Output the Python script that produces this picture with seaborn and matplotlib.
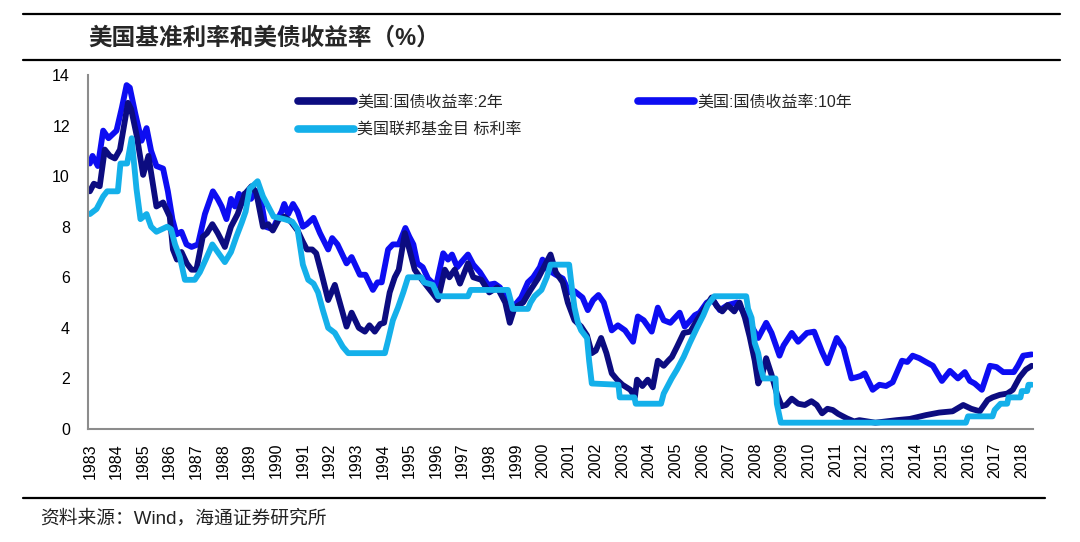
import numpy as np
import pandas as pd
import matplotlib
matplotlib.use("Agg")
import matplotlib.pyplot as plt
import seaborn as sns
from matplotlib.lines import Line2D

# ---- data (decimal year, %) ----
fed_t = [1983.0, 1983.25, 1983.5, 1983.65, 1984.05, 1984.15, 1984.4, 1984.57, 1984.75, 1984.9,
         1985.13, 1985.3, 1985.5, 1985.7, 1985.9, 1986.05, 1986.2, 1986.38, 1986.57, 1986.94,
         1987.13, 1987.35, 1987.6, 1987.8, 1988.07, 1988.3, 1988.5, 1988.7, 1988.85, 1989.0,
         1989.3, 1989.5, 1989.7, 1989.9, 1990.3, 1990.6, 1990.8, 1990.9, 1991.0, 1991.2,
         1991.4, 1991.57, 1991.75, 1991.95, 1992.2, 1992.5, 1992.7, 1994.08, 1994.2, 1994.38,
         1994.57, 1994.77, 1994.95, 1995.45, 1995.55, 1995.88, 1996.07, 1997.2, 1997.3, 1998.7,
         1998.8, 1998.88, 1999.45, 1999.55, 1999.7, 1999.96, 2000.16, 2000.3, 2001.0, 2001.1,
         2001.2, 2001.33, 2001.45, 2001.67, 2001.75, 2001.85, 2002.85, 2002.9, 2003.45, 2003.5,
         2004.45, 2004.55, 2004.7, 2004.85, 2005.05, 2005.3, 2005.53, 2005.8, 2006.04, 2006.2,
         2006.45, 2007.65, 2007.72, 2007.85, 2007.97, 2008.1, 2008.2, 2008.3, 2008.75, 2008.8,
         2008.95, 2015.9, 2015.98, 2016.9, 2016.98, 2017.2, 2017.45, 2017.5, 2017.95, 2018.0,
         2018.2, 2018.25, 2018.37]
fed_v = [8.5, 8.7, 9.2, 9.4, 9.4, 10.5, 10.5, 11.5, 9.5, 8.3,
         8.5, 8.0, 7.8, 7.9, 8.0, 7.9, 7.3, 6.8, 5.9, 5.9,
         6.2, 6.7, 7.3, 7.0, 6.6, 7.0, 7.6, 8.15, 8.6, 9.5,
         9.8, 9.2, 8.8, 8.4, 8.3, 8.2, 7.9, 7.2, 6.5, 5.9,
         5.75, 5.4, 4.7, 4.0, 3.8, 3.25, 3.0, 3.0, 3.5, 4.3,
         4.8, 5.4, 6.0, 6.0, 5.8, 5.7, 5.25, 5.25, 5.5, 5.5,
         5.1, 4.75, 4.75, 5.0, 5.25, 5.5, 6.0, 6.5, 6.5, 5.6,
         4.8, 4.2, 3.9, 3.6, 2.7, 1.8, 1.75, 1.25, 1.25, 1.0,
         1.0, 1.4, 1.7, 2.0, 2.35, 2.85, 3.4, 4.0, 4.5, 4.9,
         5.25, 5.25, 4.75, 4.4, 3.4, 3.0, 2.4, 2.0, 2.0, 1.0,
         0.25, 0.25, 0.5, 0.5, 0.75, 1.0, 1.0, 1.25, 1.25, 1.5,
         1.5, 1.75, 1.75]

y10_t = [1983.0, 1983.1, 1983.3, 1983.5, 1983.7, 1984.0, 1984.2, 1984.38, 1984.5, 1984.7,
         1984.94, 1985.13, 1985.3, 1985.5, 1985.75, 1985.93, 1986.1, 1986.25, 1986.44, 1986.63,
         1986.82, 1987.06, 1987.32, 1987.62, 1987.8, 1987.95, 1988.13, 1988.3, 1988.45, 1988.6,
         1988.7, 1988.8, 1989.05, 1989.25, 1989.45, 1989.6, 1989.87, 1990.0, 1990.2, 1990.3,
         1990.45, 1990.63, 1990.8, 1991.0, 1991.15, 1991.4, 1991.64, 1991.95, 1992.1, 1992.3,
         1992.64, 1992.83, 1993.14, 1993.35, 1993.63, 1993.8, 1993.96, 1994.2, 1994.38, 1994.6,
         1994.85, 1995.0, 1995.15, 1995.3, 1995.5, 1995.7, 1996.0, 1996.27, 1996.45, 1996.6,
         1996.8, 1996.95, 1997.2, 1997.4, 1997.65, 1997.95, 1998.2, 1998.4, 1998.66, 1998.77,
         1998.96, 1999.2, 1999.45, 1999.65, 1999.9, 2000.0, 2000.2, 2000.5, 2000.76, 2001.0,
         2001.2, 2001.5, 2001.7, 2001.9, 2002.1, 2002.3, 2002.6, 2002.83, 2003.1, 2003.4,
         2003.58, 2003.8, 2004.1, 2004.33, 2004.55, 2004.8, 2005.15, 2005.34, 2005.6, 2005.72,
         2005.9, 2006.17, 2006.4, 2006.66, 2006.95, 2007.3, 2007.5, 2007.78, 2008.1, 2008.4,
         2008.6, 2008.9, 2009.05, 2009.36, 2009.6, 2009.93, 2010.2, 2010.5, 2010.7, 2011.05,
         2011.3, 2011.6, 2011.8, 2011.95, 2012.1, 2012.4, 2012.65, 2012.9, 2013.15, 2013.5,
         2013.7, 2013.9, 2014.15, 2014.4, 2014.66, 2015.0, 2015.3, 2015.6, 2015.86, 2016.05,
         2016.23, 2016.5, 2016.8, 2017.05, 2017.3, 2017.7, 2017.85, 2018.05, 2018.37]
y10_v = [10.5, 10.8, 10.4, 11.8, 11.5, 11.8, 12.7, 13.6, 13.5, 12.5,
         11.4, 11.9, 11.0, 10.4, 10.3, 9.4, 8.3, 7.7, 7.8, 7.3,
         7.2, 7.3, 8.5, 9.4, 9.1, 8.8, 8.3, 9.1, 8.8, 9.3,
         8.9, 9.3, 9.1, 9.4, 8.9, 8.0, 7.9, 8.2, 8.6, 8.9,
         8.5, 8.9, 8.6, 8.0, 8.1, 8.35, 7.75, 7.1, 7.55, 7.3,
         6.55, 6.8, 6.1, 6.1, 5.5, 5.8, 5.8, 7.1, 7.3, 7.3,
         7.95, 7.6, 7.3, 6.55, 6.4, 5.95, 5.65, 6.95, 6.7, 6.9,
         6.4, 6.6, 6.9, 6.5, 6.2, 5.7, 5.75, 5.6, 5.1, 4.5,
         4.9, 5.2, 5.8, 6.0, 6.4, 6.7, 6.3, 6.1, 5.95, 5.4,
         5.45, 5.2, 4.7, 5.1, 5.3, 5.0, 3.9, 4.1, 3.9, 3.45,
         4.45, 4.3, 3.85, 4.8, 4.3, 4.2, 4.6, 4.05, 4.35, 4.5,
         4.6, 5.0, 5.1, 4.7, 4.9, 5.0, 4.7, 4.2, 3.6, 4.2,
         3.8, 2.9, 3.3, 3.8, 3.45, 3.8, 3.85, 3.05, 2.6, 3.6,
         3.2, 2.0, 2.05, 2.1, 2.2, 1.55, 1.75, 1.7, 1.85, 2.7,
         2.65, 2.9, 2.8, 2.65, 2.5, 1.9, 2.3, 2.0, 2.25, 1.9,
         1.8, 1.55, 2.5, 2.45, 2.25, 2.25, 2.5, 2.9, 2.95]

y2_t = [1983.0, 1983.15, 1983.37, 1983.56, 1983.75, 1983.94, 1984.13, 1984.43, 1984.55, 1984.76,
        1985.0, 1985.2, 1985.38, 1985.5, 1985.75, 1986.0, 1986.12, 1986.27, 1986.44, 1986.64,
        1986.82, 1987.0, 1987.24, 1987.4, 1987.6, 1987.8, 1988.07, 1988.3, 1988.55, 1988.82,
        1989.07, 1989.25, 1989.5, 1989.7, 1989.87, 1990.1, 1990.3, 1990.55, 1990.8, 1991.0,
        1991.15, 1991.35, 1991.5, 1991.7, 1991.95, 1992.2, 1992.4, 1992.64, 1992.83, 1993.1,
        1993.33, 1993.5, 1993.7, 1993.9, 1994.05, 1994.26, 1994.45, 1994.6, 1994.83, 1995.0,
        1995.2, 1995.4, 1995.7, 1996.07, 1996.33, 1996.5, 1996.7, 1996.9, 1997.2, 1997.4,
        1997.7, 1998.0, 1998.3, 1998.6, 1998.77, 1998.95, 1999.27, 1999.55, 1999.83, 2000.05,
        2000.3, 2000.5, 2000.76, 2000.95, 2001.2, 2001.45, 2001.67, 2001.85, 2002.0, 2002.2,
        2002.4, 2002.6, 2002.8, 2003.0, 2003.3, 2003.47, 2003.55, 2003.75, 2003.95, 2004.14,
        2004.33, 2004.55, 2004.72, 2004.86, 2005.05, 2005.3, 2005.55, 2005.8, 2006.05, 2006.35,
        2006.55, 2006.75, 2006.95, 2007.2, 2007.4, 2007.6, 2007.78, 2007.97, 2008.1, 2008.25,
        2008.4, 2008.6, 2008.8, 2008.98, 2009.15, 2009.36, 2009.6, 2009.85, 2010.1, 2010.3,
        2010.5, 2010.7, 2010.9, 2011.1, 2011.43, 2011.7, 2011.9, 2012.2, 2012.5, 2012.9,
        2013.3, 2013.8, 2014.4, 2014.9, 2015.4, 2015.8, 2016.1, 2016.42, 2016.72, 2016.9,
        2017.17, 2017.45, 2017.66, 2017.92, 2018.15, 2018.37]
y2_v = [9.4, 9.7, 9.6, 11.05, 10.8, 10.7, 11.05, 12.9, 12.65, 11.6,
        10.05, 10.8, 9.6, 8.8, 8.96, 8.4, 7.1, 6.7, 7.0, 6.55,
        6.3, 6.3, 7.6, 7.75, 8.1, 7.75, 7.2, 8.0, 8.5, 9.3,
        9.6, 9.35, 8.0, 8.1, 7.85, 8.3, 8.4, 8.2, 7.85, 7.4,
        7.1, 7.1, 6.95, 6.15, 5.1, 5.7, 4.95, 4.05, 4.6, 4.0,
        3.85, 4.1, 3.85, 4.15, 4.2, 5.4, 6.0, 6.3, 7.75, 7.1,
        6.3, 6.0, 5.6, 5.1, 6.3, 6.0, 6.3, 5.75, 6.55, 6.0,
        5.9, 5.4, 5.6, 5.0, 4.2, 4.8, 5.0, 5.5, 5.95, 6.4,
        6.9, 6.2, 5.8, 5.0, 4.3, 4.05, 3.7, 3.0, 3.1, 3.6,
        3.0, 2.2, 1.95, 1.75, 1.55, 1.27, 1.95, 1.7, 1.95, 1.65,
        2.7, 2.5, 2.7, 2.85, 3.25, 3.8, 3.85, 4.3, 4.7, 5.2,
        4.85, 4.65, 4.9, 4.65, 5.0, 4.4, 3.65, 2.7, 1.8, 2.15,
        2.8, 2.15, 1.4, 0.9, 0.95, 1.2, 1.0, 0.95, 1.1, 0.95,
        0.62, 0.8, 0.75, 0.6, 0.42, 0.3, 0.35, 0.3, 0.25, 0.3,
        0.35, 0.4, 0.55, 0.65, 0.7, 0.95, 0.8, 0.7, 1.15, 1.25,
        1.35, 1.4, 1.55, 2.05, 2.35, 2.5]

name_2y = "美国:国债收益率:2年"
name_10y = "美国:国债收益率:10年"
name_fed = "美国联邦基金目 标利率"
colors = {name_2y: "#0c0c80", name_10y: "#0d0df2", name_fed: "#14b0ea"}

df = pd.concat([
    pd.DataFrame({"year": y10_t, "rate": y10_v, "series": name_10y}),
    pd.DataFrame({"year": y2_t, "rate": y2_v, "series": name_2y}),
    pd.DataFrame({"year": fed_t, "rate": fed_v, "series": name_fed}),
], ignore_index=True)

sns.set_style("white")
plt.rcParams["font.family"] = ["Liberation Sans", "Noto Sans CJK SC", "DejaVu Sans"]

W, H = 1080, 542
fig = plt.figure(figsize=(W / 100, H / 100), dpi=100)
ax = fig.add_axes([88 / W, 1 - 429 / H, (1033 - 88) / W, (429 - 75) / H])

sns.lineplot(data=df, x="year", y="rate", hue="series",
             hue_order=[name_10y, name_2y, name_fed], palette=colors,
             estimator=None, sort=False, linewidth=4.2, legend=False, ax=ax)
for ln in ax.get_lines():
    ln.set_solid_joinstyle("round")
    ln.set_solid_capstyle("round")

ax.set_xlim(1982.93, 2018.42)
ax.set_ylim(0, 14)
ax.set_yticks(np.arange(0, 15, 2))
years = list(range(1983, 2019))
ax.set_xticks(years)
ax.set_xticklabels([str(y) for y in years], rotation=90)
ax.set_xlabel("")
ax.set_ylabel("")
for s in ["top", "right"]:
    ax.spines[s].set_visible(False)
for s in ["left", "bottom"]:
    ax.spines[s].set_color("#8c8c8c")
    ax.spines[s].set_linewidth(1.5)
ax.tick_params(axis="both", direction="out", length=5, width=1.3, color="#8c8c8c",
               labelsize=11.5, labelcolor="black", pad=5)
ax.tick_params(axis="y", pad=8)

# legends
def handle(name):
    return Line2D([0], [0], color=colors[name], lw=5.5, solid_capstyle="round")

leg_kw = dict(frameon=False, fontsize=11.5, handlelength=3.5, handletextpad=0.2,
              labelspacing=0.8, borderpad=0, borderaxespad=0, loc="upper left",
              bbox_transform=fig.transFigure)
leg1 = fig.legend([handle(name_2y), handle(name_fed)], [name_2y, name_fed],
                  bbox_to_anchor=(298 / W, 1 - 95 / H), **leg_kw)
leg2 = fig.legend([handle(name_10y)], [name_10y],
                  bbox_to_anchor=(638 / W, 1 - 95 / H), **leg_kw)

# header / footer rules and texts
for yy, x1 in [(14, 1060), (60, 1060), (498, 1045)]:
    fig.add_artist(Line2D([23 / W, x1 / W], [1 - yy / H] * 2, color="black", lw=1.6,
                          transform=fig.transFigure))
fig.text(88 / W, 1 - 38 / H, "美国基准利率和美债收益率（%）", fontsize=17,
         fontweight="bold", va="center", ha="left")
fig.text(40 / W, 1 - 518 / H, "资料来源：Wind，海通证券研究所", fontsize=13.5,
         va="center", ha="left", color="#222222")

fig.savefig("out.png", dpi=100, facecolor="white")
